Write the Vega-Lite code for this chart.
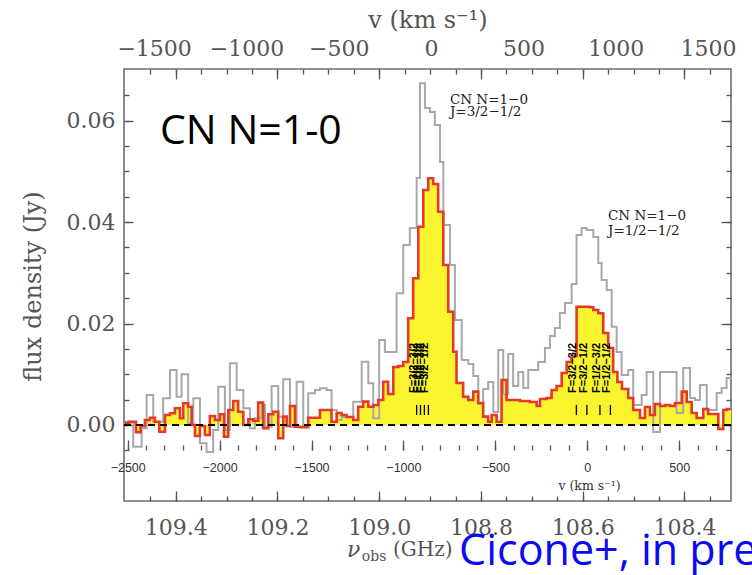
{
  "$schema": "https://vega.github.io/schema/vega-lite/v6.json",
  "autosize": {"type": "none"},
  "width": 607,
  "height": 432,
  "padding": {"left": 124, "top": 69, "right": 21, "bottom": 74},
  "background": "white",
  "config": {
    "view": {"stroke": "#6e6e6e", "strokeWidth": 1.6},
    "axis": {"grid": false, "domain": false, "ticks": true, "zindex": 1, "labelFlush": false, "labelOverlap": false, "tickColor": "#555555", "tickOpacity": 1, "tickWidth": 1.3, "labelColor": "#555555", "labelFont": "DejaVu Serif", "labelFontSize": 22, "titleColor": "#555555", "titleFont": "DejaVu Serif", "titleFontWeight": "normal", "titleFontSize": 24}
  },
  "datasets": {
    "red": [
      {"v": -2515, "f": 0.00045}, {"v": -2492, "f": 0.00065}, {"v": -2455, "f": -0.00144}, {"v": -2430, "f": -0.0002}, {"v": -2406, "f": 0.00099}, {"v": -2379, "f": 0.00144}, {"v": -2352, "f": 0.00065}, {"v": -2328, "f": -0.00132}, {"v": -2297, "f": 0.00197}, {"v": -2270, "f": 0.00231}, {"v": -2243, "f": 0.00329}, {"v": -2216, "f": 0.00132}, {"v": -2198, "f": 0.00428}, {"v": -2171, "f": 0.00361}, {"v": -2152, "f": 0.0}, {"v": -2134, "f": -0.00217}, {"v": -2107, "f": -0.0002}, {"v": -2080, "f": -0.00197}, {"v": -2053, "f": 0.00177}, {"v": -2025, "f": 0.00099}, {"v": -1998, "f": 0.00211}, {"v": -1976, "f": -0.00231}, {"v": -1953, "f": 0.00296}, {"v": -1926, "f": 0.00473}, {"v": -1899, "f": 0.00262}, {"v": -1871, "f": 0.0}, {"v": -1844, "f": 0.00112}, {"v": -1817, "f": 0.00085}, {"v": -1790, "f": 0.0044}, {"v": -1763, "f": -0.00065}, {"v": -1735, "f": 0.00211}, {"v": -1708, "f": 0.00262}, {"v": -1681, "f": -0.00262}, {"v": -1654, "f": 0.00164}, {"v": -1635, "f": -0.0002}, {"v": -1617, "f": 0.00375}, {"v": -1590, "f": -0.00034}, {"v": -1563, "f": -0.00045}, {"v": -1518, "f": 0.00144}, {"v": -1454, "f": 0.00296}, {"v": -1391, "f": 0.00065}, {"v": -1363, "f": 0.00237}, {"v": -1336, "f": 0.00197}, {"v": -1309, "f": 0.00158}, {"v": -1273, "f": 0.00099}, {"v": -1246, "f": 0.00361}, {"v": -1219, "f": 0.0046}, {"v": -1191, "f": 0.00361}, {"v": -1164, "f": 0.00394}, {"v": -1137, "f": 0.00493}, {"v": -1110, "f": 0.00854}, {"v": -1083, "f": 0.00611}, {"v": -1055, "f": 0.01144}, {"v": -1028, "f": 0.01163}, {"v": -1001, "f": 0.01242}, {"v": -974, "f": 0.02104}, {"v": -947, "f": 0.02893}, {"v": -919, "f": 0.0391}, {"v": -892, "f": 0.04634}, {"v": -865, "f": 0.04865}, {"v": -838, "f": 0.04753}, {"v": -811, "f": 0.04206}, {"v": -783, "f": 0.03155}, {"v": -756, "f": 0.02234}, {"v": -729, "f": 0.01445}, {"v": -711, "f": 0.00828}, {"v": -675, "f": 0.00558}, {"v": -647, "f": 0.00493}, {"v": -620, "f": 0.00657}, {"v": -593, "f": 0.00434}, {"v": -566, "f": 0.00164}, {"v": -539, "f": 0.00065}, {"v": -520, "f": 0.00197}, {"v": -493, "f": 0.00065}, {"v": -466, "f": 0.00887}, {"v": -439, "f": 0.00493}, {"v": -366, "f": 0.00473}, {"v": -312, "f": 0.00454}, {"v": -275, "f": 0.00375}, {"v": -257, "f": 0.00513}, {"v": -221, "f": 0.00532}, {"v": -194, "f": 0.0069}, {"v": -167, "f": 0.00769}, {"v": -139, "f": 0.01025}, {"v": -112, "f": 0.01242}, {"v": -85, "f": 0.01361}, {"v": -58, "f": 0.02333}, {"v": 15, "f": 0.02321}, {"v": 33, "f": 0.02268}, {"v": 60, "f": 0.02203}, {"v": 87, "f": 0.01814}, {"v": 114, "f": 0.01518}, {"v": 141, "f": 0.01045}, {"v": 164, "f": 0.00848}, {"v": 189, "f": 0.0071}, {"v": 223, "f": 0.00532}, {"v": 250, "f": 0.00296}, {"v": 287, "f": 0.00138}, {"v": 314, "f": 0.00355}, {"v": 341, "f": 0.00197}, {"v": 368, "f": 0.00414}, {"v": 396, "f": 0.00375}, {"v": 423, "f": 0.00394}, {"v": 450, "f": 0.00375}, {"v": 477, "f": 0.00434}, {"v": 514, "f": 0.00657}, {"v": 541, "f": 0.00454}, {"v": 568, "f": 0.00237}, {"v": 595, "f": 0.00138}, {"v": 631, "f": 0.00316}, {"v": 658, "f": 0.00217}, {"v": 685, "f": 0.00217}, {"v": 713, "f": -0.00079}, {"v": 740, "f": 0.00296}, {"v": 760, "f": 0.00316}, {"v": 782, "f": 0.00316}
    ],
    "gray": [
      {"v": -2515, "f": 0.00065}, {"v": -2470, "f": -0.00428}, {"v": -2424, "f": -0.00065}, {"v": -2397, "f": 0.00592}, {"v": -2361, "f": 0.00065}, {"v": -2307, "f": 0.00527}, {"v": -2270, "f": 0.01085}, {"v": -2234, "f": 0.00558}, {"v": -2207, "f": 0.01}, {"v": -2171, "f": 0.00034}, {"v": -2143, "f": 0.00527}, {"v": -2107, "f": -0.00361}, {"v": -2071, "f": -0.00532}, {"v": -2035, "f": -0.00099}, {"v": -2007, "f": 0.00755}, {"v": -1971, "f": -0.00099}, {"v": -1944, "f": 0.01217}, {"v": -1907, "f": 0.0069}, {"v": -1871, "f": 0.00329}, {"v": -1835, "f": -0.00065}, {"v": -1808, "f": 0.00132}, {"v": -1771, "f": 0.00394}, {"v": -1753, "f": -0.00034}, {"v": -1717, "f": 0.00769}, {"v": -1681, "f": 0.00164}, {"v": -1654, "f": 0.00901}, {"v": -1617, "f": -0.00034}, {"v": -1581, "f": 0.00854}, {"v": -1545, "f": -0.00034}, {"v": -1518, "f": 0.00625}, {"v": -1481, "f": 0.0069}, {"v": -1454, "f": 0.00724}, {"v": -1418, "f": 0.0069}, {"v": -1391, "f": 0.00296}, {"v": -1363, "f": 0.00099}, {"v": -1336, "f": 0.00158}, {"v": -1273, "f": 0.0046}, {"v": -1227, "f": 0.01248}, {"v": -1191, "f": 0.00822}, {"v": -1164, "f": 0.00132}, {"v": -1132, "f": 0.01676}, {"v": -1101, "f": 0.0144}, {"v": -1037, "f": 0.02597}, {"v": -1001, "f": 0.0355}, {"v": -965, "f": 0.03885}, {"v": -928, "f": 0.04871}, {"v": -910, "f": 0.06738}, {"v": -883, "f": 0.06251}, {"v": -856, "f": 0.06172}, {"v": -829, "f": 0.05916}, {"v": -801, "f": 0.05186}, {"v": -783, "f": 0.03944}, {"v": -747, "f": 0.03155}, {"v": -720, "f": 0.02071}, {"v": -683, "f": 0.01282}, {"v": -647, "f": 0.01203}, {"v": -620, "f": 0.00966}, {"v": -593, "f": 0.00414}, {"v": -566, "f": 0.0071}, {"v": -539, "f": 0.00848}, {"v": -511, "f": 0.00256}, {"v": -484, "f": 0.01479}, {"v": -457, "f": 0.00611}, {"v": -430, "f": 0.014}, {"v": -403, "f": 0.00769}, {"v": -375, "f": 0.01045}, {"v": -348, "f": 0.0073}, {"v": -321, "f": 0.01085}, {"v": -267, "f": 0.01242}, {"v": -230, "f": 0.01518}, {"v": -203, "f": 0.01755}, {"v": -176, "f": 0.01913}, {"v": -149, "f": 0.02209}, {"v": -121, "f": 0.02406}, {"v": -85, "f": 0.0278}, {"v": -58, "f": 0.03747}, {"v": -31, "f": 0.03885}, {"v": -3, "f": 0.03845}, {"v": 33, "f": 0.03707}, {"v": 60, "f": 0.03195}, {"v": 78, "f": 0.02859}, {"v": 106, "f": 0.02662}, {"v": 133, "f": 0.01938}, {"v": 160, "f": 0.0144}, {"v": 187, "f": 0.00986}, {"v": 223, "f": 0.01085}, {"v": 250, "f": 0.00394}, {"v": 296, "f": 0.00592}, {"v": 323, "f": 0.01045}, {"v": 359, "f": -0.00138}, {"v": 396, "f": 0.01045}, {"v": 459, "f": 0.01045}, {"v": 486, "f": 0.00237}, {"v": 522, "f": 0.01124}, {"v": 559, "f": 0.00532}, {"v": 586, "f": 0.00493}, {"v": 613, "f": 0.00789}, {"v": 650, "f": 0.00296}, {"v": 677, "f": 0.00296}, {"v": 704, "f": 0.00631}, {"v": 731, "f": 0.0073}, {"v": 758, "f": 0.00927}, {"v": 782, "f": 0.00927}
    ]
  },
  "resolve": {"scale": {"x": "independent"}, "axis": {"x": "independent", "y": "independent"}},
  "layer": [
    {
      "encoding": {
        "x": {"field": "v", "type": "quantitative", "scale": {"domain": [-2520, 782], "nice": false, "zero": false},
          "axis": {"orient": "bottom", "offset": -61, "values": [-2500, -2000, -1500, -1000, -500, 0, 500], "tickSize": 10, "format": "d", "labelFont": "Liberation Sans", "labelFontSize": 12.5, "labelColor": "#333333", "labelBaseline": "middle", "labelPadding": 17, "title": "v (km s⁻¹)", "titleFont": "DejaVu Serif", "titleFontSize": 12.5, "titleColor": "#333333", "titleX": 465, "titleY": 45, "titleBaseline": "middle", "titleAlign": "center"}},
        "y": {"field": "f", "type": "quantitative", "scale": {"domain": [-0.01499, 0.0702], "nice": false, "zero": false}, "axis": null}
      },
      "layer": [
        {"data": {"name": "red"}, "mark": {"type": "area", "interpolate": "step-after", "color": "#faf42e"}, "encoding": {"y2": {"datum": 0}}},
        {"data": {"name": "gray"}, "mark": {"type": "line", "interpolate": "step-after", "color": "#a8a8a8", "strokeWidth": 2}},
        {"data": {"name": "red"}, "mark": {"type": "line", "interpolate": "step-after", "color": "#e5392a", "strokeWidth": 2.6}}
      ]
    },
    {
      "data": {"values": [{}]},
      "mark": {"type": "rule", "strokeDash": [7, 5], "color": "black", "strokeWidth": 1.8},
      "encoding": {"y": {"datum": 0, "type": "quantitative", "scale": {"domain": [-0.01499, 0.0702], "nice": false, "zero": false}, "axis": null}}
    },
    {
      "encoding": {
        "x": {"field": "v", "type": "quantitative", "scale": {"domain": [-2520, 782], "nice": false, "zero": false}, "axis": null},
        "y": {"field": "f", "type": "quantitative", "scale": {"domain": [-0.01499, 0.0702], "nice": false, "zero": false}, "axis": null}
      },
      "layer": [
        {"data": {"values": [{"v": -2324, "f": 0.0578, "label": "CN N=1-0"}]},
         "mark": {"type": "text", "font": "Open Sans", "fontSize": 41, "align": "left", "baseline": "middle", "color": "black"},
         "encoding": {"text": {"field": "label"}}},
        {"data": {"values": [
          {"v": -747, "f": 0.06409, "label": "CN N=1−0"},
          {"v": -747, "f": 0.06163, "label": "J=3/2−1/2"},
          {"v": 113, "f": 0.04112, "label": "CN N=1−0"},
          {"v": 113, "f": 0.03826, "label": "J=1/2−1/2"}]},
         "mark": {"type": "text", "font": "DejaVu Serif", "fontSize": 13.5, "align": "left", "baseline": "middle", "color": "#222222"},
         "encoding": {"text": {"field": "label"}}},
        {"data": {"values": [
          {"v": -928, "f": 0.00197, "f2": 0.00394}, {"v": -907, "f": 0.00197, "f2": 0.00394}, {"v": -886, "f": 0.00197, "f2": 0.00394}, {"v": -864, "f": 0.00197, "f2": 0.00394},
          {"v": -59, "f": 0.00197, "f2": 0.00394}, {"v": -2, "f": 0.00197, "f2": 0.00394}, {"v": 69, "f": 0.00197, "f2": 0.00394}, {"v": 126, "f": 0.00197, "f2": 0.00394}]},
         "mark": {"type": "rule", "color": "black", "strokeWidth": 1.3},
         "encoding": {"y2": {"field": "f2"}}},
        {"data": {"values": [
          {"v": -928, "f": 0.00631, "label": "F=3/2−3/2"}, {"v": -907, "f": 0.00631, "label": "F=1/2−1/2"}, {"v": -886, "f": 0.00631, "label": "F=5/2−3/2"}, {"v": -864, "f": 0.00631, "label": "F=3/2−1/2"},
          {"v": -59, "f": 0.00631, "label": "F=3/2−3/2"}, {"v": -2, "f": 0.00631, "label": "F=3/2−1/2"}, {"v": 69, "f": 0.00631, "label": "F=1/2−3/2"}, {"v": 126, "f": 0.00631, "label": "F=1/2−1/2"}]},
         "mark": {"type": "text", "angle": 270, "align": "left", "baseline": "alphabetic", "font": "Liberation Sans", "fontWeight": "bold", "fontSize": 11, "color": "black"},
         "encoding": {"text": {"field": "label"}}},
        {"data": {"values": [{"v": -1307, "f": -0.02465, "label": "ν"}]},
         "mark": {"type": "text", "font": "DejaVu Serif", "fontStyle": "italic", "fontSize": 22, "align": "left", "baseline": "middle", "color": "#555555"},
         "encoding": {"text": {"field": "label"}}},
        {"data": {"values": [{"v": -1226, "f": -0.02603, "label": "obs"}]},
         "mark": {"type": "text", "font": "DejaVu Serif", "fontSize": 14, "align": "left", "baseline": "middle", "color": "#555555"},
         "encoding": {"text": {"field": "label"}}},
        {"data": {"values": [{"v": -1057, "f": -0.02465, "label": "(GHz)"}]},
         "mark": {"type": "text", "font": "DejaVu Serif", "fontSize": 20, "align": "left", "baseline": "middle", "color": "#555555"},
         "encoding": {"text": {"field": "label"}}},
        {"data": {"values": [{"v": -697, "f": -0.02504, "label": "Cicone+, in prep."}]},
         "mark": {"type": "text", "font": "Open Sans", "fontSize": 43, "align": "left", "baseline": "middle", "color": "#0b0bf0"},
         "encoding": {"text": {"field": "label"}}}
      ]
    },
    {
      "data": {"values": [{"v": 0, "f": 0}]},
      "mark": {"type": "point", "opacity": 0},
      "encoding": {
        "x": {"field": "v", "type": "quantitative", "scale": {"domain": [-2520, 782], "nice": false, "zero": false},
          "axis": {"orient": "bottom", "offset": -56, "values": [-2500, -2400, -2300, -2200, -2100, -2000, -1900, -1800, -1700, -1600, -1500, -1400, -1300, -1200, -1100, -1000, -900, -800, -700, -600, -500, -400, -300, -200, -100, 0, 100, 200, 300, 400, 500, 600, 700], "tickSize": 5, "labels": false, "title": null}},
        "y": {"field": "f", "type": "quantitative", "scale": {"domain": [-0.01499, 0.0702], "nice": false, "zero": false},
          "axis": {"orient": "left", "offset": -9, "values": [0, 0.02, 0.04, 0.06], "tickSize": 9, "format": ".2f", "labelPadding": 9, "labelBaseline": "middle", "labelAlign": "right", "title": "flux density (Jy)", "titleX": -100, "titleY": 217, "titleAngle": 270, "titleBaseline": "middle", "titleAlign": "center"}}
      }
    },
    {
      "data": {"values": [{"nu": 109.0, "f": 0}]},
      "mark": {"type": "point", "opacity": 0},
      "encoding": {
        "x": {"field": "nu", "type": "quantitative", "scale": {"domain": [108.3084, 109.5017], "reverse": true, "nice": false, "zero": false},
          "axis": {"orient": "bottom", "offset": -10, "values": [109.4, 109.2, 109.0, 108.8, 108.6, 108.4], "tickSize": 10, "format": ".1f", "labelPadding": 26, "labelBaseline": "middle", "title": null}},
        "y": {"field": "f", "type": "quantitative", "scale": {"domain": [-0.01499, 0.0702], "nice": false, "zero": false},
          "axis": {"orient": "left", "offset": -5, "values": [-0.005, 0, 0.005, 0.01, 0.015, 0.02, 0.025, 0.03, 0.035, 0.04, 0.045, 0.05, 0.055, 0.06, 0.065], "tickSize": 5, "labels": false, "title": null}}
      }
    },
    {
      "data": {"values": [{"nu": 109.0, "f": 0}]},
      "mark": {"type": "point", "opacity": 0},
      "encoding": {
        "x": {"field": "nu", "type": "quantitative", "scale": {"domain": [108.3084, 109.5017], "reverse": true, "nice": false, "zero": false},
          "axis": {"orient": "bottom", "offset": -5, "values": [109.45, 109.4, 109.35, 109.3, 109.25, 109.2, 109.15, 109.1, 109.05, 109.0, 108.95, 108.9, 108.85, 108.8, 108.75, 108.7, 108.65, 108.6, 108.55, 108.5, 108.45, 108.4, 108.35], "tickSize": 5, "labels": false, "title": null}},
        "y": {"field": "f", "type": "quantitative", "scale": {"domain": [-0.01499, 0.0702], "nice": false, "zero": false},
          "axis": {"orient": "right", "offset": -10, "values": [0, 0.02, 0.04, 0.06], "tickSize": 10, "labels": false, "title": null}}
      }
    },
    {
      "data": {"values": [{"nu": 109.0, "f": 0}]},
      "mark": {"type": "point", "opacity": 0},
      "encoding": {
        "x": {"field": "nu", "type": "quantitative", "scale": {"domain": [108.3084, 109.5017], "reverse": true, "nice": false, "zero": false},
          "axis": {"orient": "top", "offset": -10, "values": [109.4, 109.2, 109.0, 108.8, 108.6, 108.4], "tickSize": 10, "labels": false, "title": null}},
        "y": {"field": "f", "type": "quantitative", "scale": {"domain": [-0.01499, 0.0702], "nice": false, "zero": false},
          "axis": {"orient": "right", "offset": -5, "values": [-0.005, 0, 0.005, 0.01, 0.015, 0.02, 0.025, 0.03, 0.035, 0.04, 0.045, 0.05, 0.055, 0.06, 0.065], "tickSize": 5, "labels": false, "title": null}}
      }
    },
    {
      "data": {"values": [{"nu": 109.0, "f": 0}]},
      "mark": {"type": "point", "opacity": 0},
      "encoding": {
        "x": {"field": "nu", "type": "quantitative", "scale": {"domain": [108.3084, 109.5017], "reverse": true, "nice": false, "zero": false},
          "axis": {"orient": "top", "offset": -5, "values": [109.45, 109.4, 109.35, 109.3, 109.25, 109.2, 109.15, 109.1, 109.05, 109.0, 108.95, 108.9, 108.85, 108.8, 108.75, 108.7, 108.65, 108.6, 108.55, 108.5, 108.45, 108.4, 108.35], "tickSize": 5, "labels": false, "title": null}},
        "y": {"field": "f", "type": "quantitative", "scale": {"domain": [-0.01499, 0.0702], "nice": false, "zero": false}, "axis": null}
      }
    },
    {
      "data": {"values": [{"vt": 0, "f": 0}]},
      "mark": {"type": "point", "opacity": 0},
      "encoding": {
        "x": {"field": "vt", "type": "quantitative", "scale": {"domain": [-1663, 1624], "nice": false, "zero": false},
          "axis": {"orient": "top", "values": [-1500, -1000, -500, 0, 500, 1000, 1500], "ticks": false, "format": "d", "labelPadding": 21, "labelBaseline": "middle", "title": "v (km s⁻¹)", "titleY": -49, "titleBaseline": "middle"}},
        "y": {"field": "f", "type": "quantitative", "scale": {"domain": [-0.01499, 0.0702], "nice": false, "zero": false}, "axis": null}
      }
    }
  ]
}
